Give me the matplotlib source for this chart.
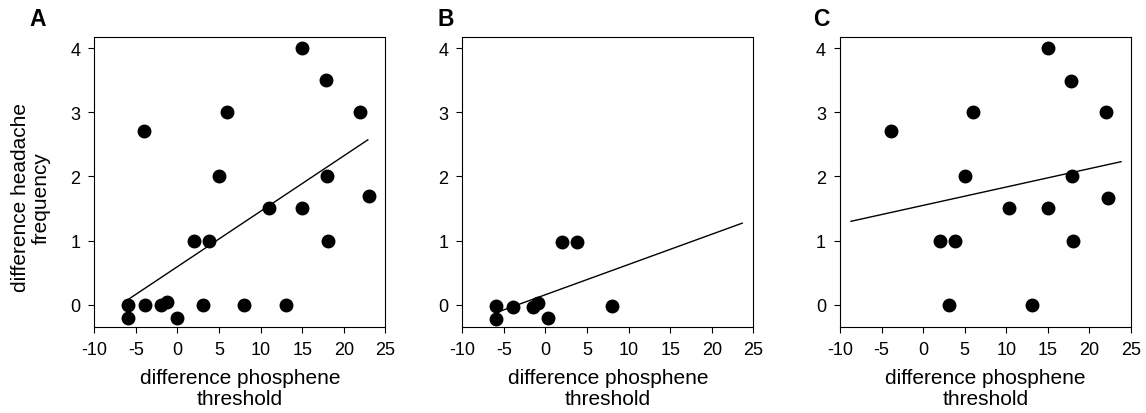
import matplotlib
matplotlib.use("Agg")
import matplotlib.pyplot as plt
import numpy as np

plt.rcParams['font.family'] = ['Liberation Sans', 'DejaVu Sans']

# Panel A data
xA = [-6, -6, -3.9, -4, -2, -1.2, 0, 2, 3.8, 3.1, 5, 6, 8, 11, 13, 15, 15, 17.9, 18, 18.05, 22, 23]
yA = [0, -0.21, 0, 2.71, 0, 0.05, -0.21, 1, 1, 0, 2, 3, 0, 1.5, 0, 4, 1.5, 3.5, 2, 1, 3, 1.7]
# Panel B data
xB = [-6, -6, -3.85, -1.5, -0.85, 0.3, 2, 3.8, 8]
yB = [-0.02, -0.23, -0.03, -0.03, 0.03, -0.2, 0.98, 0.98, -0.02]
# Panel C data
xC = [-3.9, 2.0, 3.8, 3.1, 5.05, 6.05, 10.3, 13.1, 15, 15, 17.8, 17.95, 18.05, 21.95, 22.25]
yC = [2.70, 1.0, 1.0, 0.0, 2.0, 3.0, 1.5, 0.0, 4.0, 1.5, 3.49, 2.0, 1.0, 3.0, 1.66]

# Regression lines: intercept, slope, x-range
fitA = (0.593, 0.0863, -5.83, 22.9)
fitB = (0.156, 0.0471, -5.86, 23.67)
fitC = (1.548, 0.0286, -8.68, 23.8)

panel_letters = ['A', 'B', 'C']
xticks = [-10, -5, 0, 5, 10, 15, 20, 25]
yticks = [0, 1, 2, 3, 4]
xlabel = 'difference phosphene\nthreshold'
ylabel = 'difference headache\nfrequency'

W, H = 1146, 414
fig = plt.figure(figsize=(W / 100, H / 100), dpi=100)

lefts = [94.3, 462.3, 840.0]
width = 291.0
top, bottom = 38.3, 328.3
letter_x = [38, 446, 821]

datasets = [(xA, yA, fitA), (xB, yB, fitB), (xC, yC, fitC)]

for i, (xs, ys, fit) in enumerate(datasets):
    ax = fig.add_axes([lefts[i] / W, (H - bottom) / H, width / W, (bottom - top) / H])
    ax.plot(xs, ys, 'o', color='black', ms=9, mec='black', zorder=3, clip_on=False)
    b0, b1, x0, x1 = fit
    lx = np.array([x0, x1])
    ax.plot(lx, b0 + b1 * lx, color='black', lw=1.0)
    ax.set_xlim(-10, 25)
    ax.set_ylim(-0.352, 4.167)
    ax.set_xticks(xticks)
    ax.set_yticks(yticks)
    ax.set_xticklabels([str(t) for t in xticks])
    ax.tick_params(direction='out', length=4, width=0.8, labelsize=13, pad=6,
                   top=False, right=False)
    for s in ax.spines.values():
        s.set_linewidth(0.8)
    ax.set_xlabel(xlabel, fontsize=15, linespacing=1.12, labelpad=7)
    fig.text(letter_x[i] / W, 1 - 19.5 / H, panel_letters[i], fontsize=16.5,
             fontweight='bold', ha='center', va='center')

fig.text(31 / W, 1 - 198 / H, ylabel, fontsize=15, rotation=90, ha='center',
         va='center', linespacing=1.12, multialignment='center')

fig.savefig('out.png', dpi=100)
